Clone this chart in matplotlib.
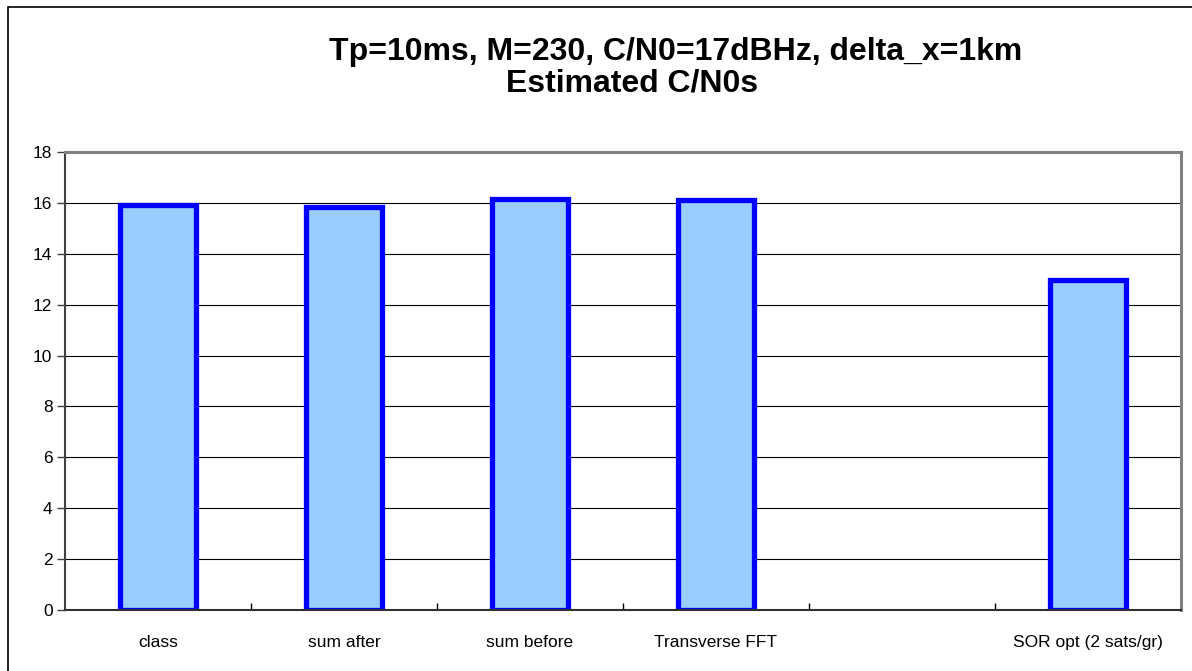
import numpy as np
import matplotlib.pyplot as plt
from matplotlib.patches import Rectangle

plt.rcParams['font.family'] = ['Liberation Sans', 'DejaVu Sans']

# estimated C/N0 per method (5th slot is empty in the original)
categories = ['class', 'sum after', 'sum before', 'Transverse FFT', '', 'SOR opt (2 sats/gr)']
cn0_values = [15.9, 15.85, 16.15, 16.1, np.nan, 12.95]
y_ticks = [0, 2, 4, 6, 8, 10, 12, 14, 16, 18]

title_line1 = 'Tp=10ms, M=230, C/N0=17dBHz, delta_x=1km'
title_line2 = 'Estimated C/N0s'

W, H = 1192, 671
fig = plt.figure(figsize=(W / 100, H / 100), dpi=100)

# chart area border (right/bottom edges run off the picture)
fig.patches.append(Rectangle((8 / W, -0.1), 1.2, 1 - 7 / H + 0.1, transform=fig.transFigure,
                             fill=False, edgecolor='black', linewidth=1.2))

ax = fig.add_axes([65 / W, (H - 610) / H, (1181 - 65) / W, (610 - 152) / H])

x = np.arange(len(categories))
ax.bar(x, cn0_values, width=0.41, color='#99CCFF', edgecolor='#0000FF', linewidth=3.8, zorder=3)

ax.set_xlim(-0.5, len(categories) - 0.5)
ax.set_ylim(0, 18)
ax.set_yticks(y_ticks)
ax.set_yticklabels([str(v) for v in y_ticks], fontsize=12.5)
ax.yaxis.grid(True, color='black', linewidth=0.8, zorder=0)

ax.set_xticks(x)
ax.set_xticklabels(categories, fontsize=12.5)
ax.tick_params(axis='x', length=0, pad=18)
ax.set_xticks(np.arange(0.5, len(categories) - 1, 1), minor=True)
ax.tick_params(axis='x', which='minor', direction='in', length=5, width=1, color='black')
ax.tick_params(axis='y', direction='out', length=6, width=1, color='#404040', pad=3)

for side in ['top', 'right']:
    ax.spines[side].set_color('#808080')
    ax.spines[side].set_linewidth(2.2)
ax.spines['left'].set_color('#404040')
ax.spines['left'].set_linewidth(1.5)
ax.spines['bottom'].set_color('#303030')
ax.spines['bottom'].set_linewidth(1.5)
ax.spines['bottom'].set_zorder(4)

fig.text(676 / W, 1 - 60 / H, title_line1, ha='center', va='baseline', fontsize=23, fontweight='bold')
fig.text(632 / W, 1 - 92 / H, title_line2, ha='center', va='baseline', fontsize=23, fontweight='bold')

fig.savefig('out.png', dpi=100)
